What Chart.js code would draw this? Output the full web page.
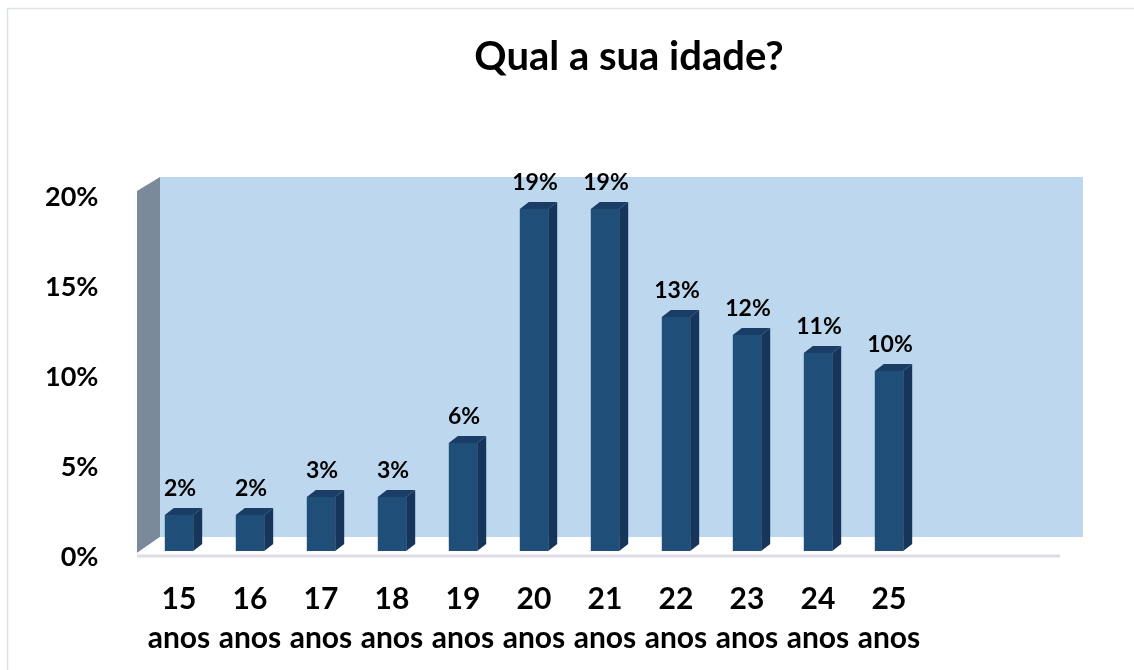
<!DOCTYPE html>
<html>
<head>
<meta charset="utf-8">
<script src="https://cdn.jsdelivr.net/npm/chart.js@4"></script>
<style>
  body { margin: 0; background: #fff; }
  #idade__chart { display: block; }
</style>
</head>
<body>
<canvas id="idade__chart" width="1134" height="670"></canvas>
<script>
const chartTitle = 'Qual a sua idade?';
const ages = ['15', '16', '17', '18', '19', '20', '21', '22', '23', '24', '25'];
const unitLabel = 'anos';
const percents = [2, 2, 3, 3, 6, 19, 19, 13, 12, 11, 10];
const emptySlots = 2;
const yTicks = [0, 5, 10, 15, 20];

const idadeChartEle = document.getElementById('idade__chart');
const labels = ages.map((a) => [a, unitLabel]).concat(Array(emptySlots).fill(''));

// walls, floor, bar sides and value labels drawn around the flat Chart.js bars
const fake3d = {
    id: 'fake3d',
    beforeDraw(chart) {
        const ctx = chart.ctx;
        ctx.save();
        ctx.fillStyle = '#fff';
        ctx.fillRect(0, 0, chart.width, chart.height);
        ctx.strokeStyle = '#dde2e8';
        ctx.lineWidth = 1.5;
        ctx.strokeRect(7.5, 8.5, chart.width, chart.height);
        ctx.fillStyle = '#000';
        ctx.font = 'bold 40px Lato';
        ctx.textAlign = 'center';
        ctx.textBaseline = 'middle';
        ctx.fillText(chartTitle, 629, 57);
        ctx.restore();
    },
    beforeDatasetsDraw(chart) {
        const ctx = chart.ctx;
        const { left, right, top, bottom } = chart.chartArea;
        const fx = -6.5, bx = 16.5, by = -14;
        ctx.save();
        // back wall
        ctx.fillStyle = '#bdd7ee';
        ctx.fillRect(left + bx, top + by, right - left, bottom - top);
        // side wall
        ctx.fillStyle = '#7b8a9b';
        ctx.beginPath();
        ctx.moveTo(left + fx, top);
        ctx.lineTo(left + bx, top + by);
        ctx.lineTo(left + bx, bottom + by);
        ctx.lineTo(left + fx, bottom + 2);
        ctx.closePath();
        ctx.fill();
        // floor
        ctx.fillStyle = '#fff';
        ctx.beginPath();
        ctx.moveTo(left + fx, bottom + 2);
        ctx.lineTo(left + bx, bottom + by);
        ctx.lineTo(right + bx, bottom + by);
        ctx.lineTo(right + fx, bottom + 2);
        ctx.closePath();
        ctx.fill();
        ctx.fillStyle = '#dcdde6';
        ctx.fillRect(left + fx, bottom + 3.5, right - left, 3);
        ctx.restore();
    },
    afterDatasetsDraw(chart) {
        const ctx = chart.ctx;
        const meta = chart.getDatasetMeta(0);
        const d = 9, up = 7;
        ctx.save();
        meta.data.forEach((bar, i) => {
            const half = bar.width / 2;
            const x0 = bar.x - half, x1 = bar.x + half;
            const t = bar.y, b = bar.base;
            ctx.fillStyle = '#16355a';
            ctx.beginPath();
            ctx.moveTo(x1, t);
            ctx.lineTo(x1 + d, t - up);
            ctx.lineTo(x1 + d, b - up);
            ctx.lineTo(x1, b);
            ctx.closePath();
            ctx.fill();
            ctx.fillStyle = '#1a3d66';
            ctx.beginPath();
            ctx.moveTo(x0, t);
            ctx.lineTo(x0 + d, t - up);
            ctx.lineTo(x1 + d, t - up);
            ctx.lineTo(x1, t);
            ctx.closePath();
            ctx.fill();
            ctx.fillStyle = '#000';
            ctx.font = 'bold 23px Lato';
            ctx.textAlign = 'center';
            ctx.textBaseline = 'middle';
            ctx.fillText(percents[i] + '%', bar.x + 1, t - 26);
        });
        ctx.restore();
    },
};

const idadeChart = new Chart(idadeChartEle, {
    type: 'bar',
    data: {
        labels: labels,
        datasets: [
            {
                label: chartTitle,
                data: percents,
                backgroundColor: '#1f4e79',
                borderWidth: 0,
                barPercentage: 0.4,
                categoryPercentage: 1,
            },
        ],
    },
    options: {
        responsive: false,
        animation: false,
        layout: {
            padding: { top: 191, right: 67.5, bottom: 0, left: 0 },
        },
        plugins: {
            legend: { display: false },
            tooltip: { enabled: false },
        },
        scales: {
            x: {
                grid: { display: false },
                border: { display: false },
                afterFit: (axis) => { axis.height = 119; },
                ticks: {
                    color: '#000',
                    font: { family: 'Lato', weight: 'bold', size: 30, lineHeight: 1.3 },
                    maxRotation: 0,
                    autoSkip: false,
                    padding: 21,
                },
            },
            y: {
                min: yTicks[0],
                max: yTicks[yTicks.length - 1],
                grid: { display: false },
                border: { display: false },
                afterFit: (axis) => { axis.width = 143.5; },
                afterBuildTicks: (axis) => { axis.ticks = yTicks.map((v) => ({ value: v })); },
                ticks: {
                    color: '#000',
                    font: { family: 'Lato', weight: 'bold', size: 27 },
                    padding: 37,
                    labelOffset: 6,
                    callback: (v) => v + '%',
                },
            },
        },
    },
    plugins: [fake3d],
});
</script>
</body>
</html>
